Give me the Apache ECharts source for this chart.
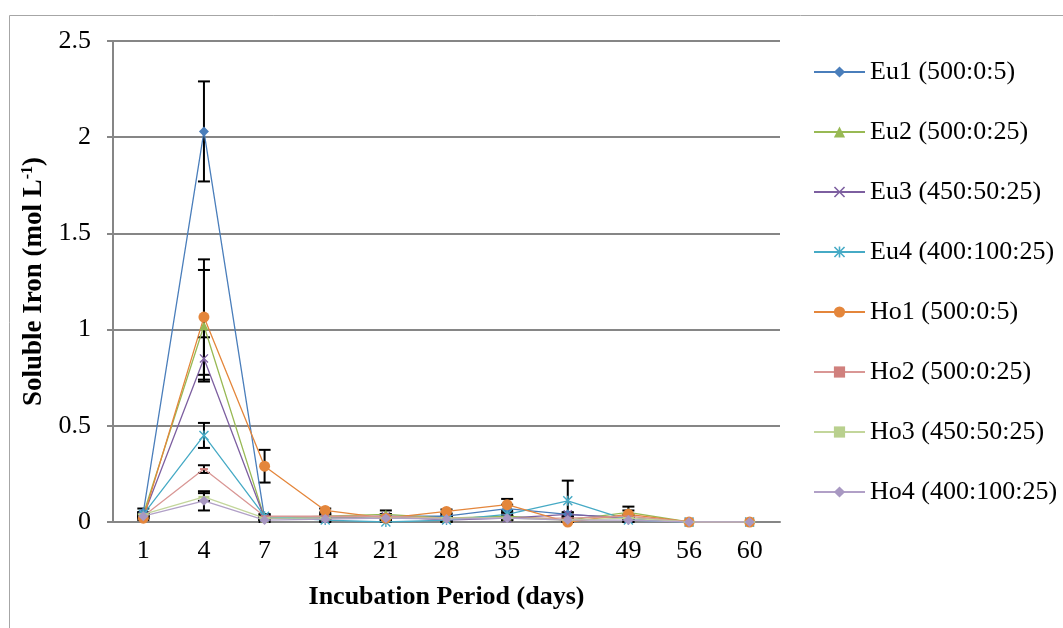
<!DOCTYPE html>
<html>
<head>
<meta charset="UTF-8">
<title>Soluble Iron</title>
<script type="text/javascript" src="https://cdn.jsdelivr.net/npm/echarts@6/dist/echarts.min.js"></script>
<style type="text/css">
body {
	margin: 0;
	background-color: #FFFFFF
}
</style>
</head>
<body>
	<div id="main" style="width: 1063px; height: 628px"></div>
</body>
<script type="text/javascript">
	// days of incubation
	var days = ['1', '4', '7', '14', '21', '28', '35', '42', '49', '56', '60'];
	var yTicks = [0, 0.5, 1, 1.5, 2, 2.5];

	var names = ['Eu1 (500:0:5)', 'Eu2 (500:0:25)', 'Eu3 (450:50:25)', 'Eu4 (400:100:25)',
		'Ho1 (500:0:5)', 'Ho2 (500:0:25)', 'Ho3 (450:50:25)', 'Ho4 (400:100:25)'];

	// mean values
	var eu1 = [0.05, 2.03, 0.02, 0.02, 0.03, 0.03, 0.07, 0.04, 0.02, 0, 0];
	var eu2 = [0.04, 1.02, 0.02, 0.03, 0.04, 0.02, 0.03, 0.01, 0.05, 0, 0];
	var eu3 = [0.03, 0.85, 0.02, 0.02, 0.03, 0.01, 0.02, 0.04, 0.02, 0, 0];
	var eu4 = [0.04, 0.45, 0.03, 0.01, 0.00, 0.01, 0.04, 0.11, 0.01, 0, 0];
	var ho1 = [0.02, 1.065, 0.29, 0.06, 0.02, 0.055, 0.09, 0.00, 0.04, 0, 0];
	var ho2 = [0.03, 0.275, 0.03, 0.03, 0.03, 0.02, 0.02, 0.02, 0.03, 0, 0];
	var ho3 = [0.04, 0.13, 0.02, 0.02, 0.02, 0.02, 0.02, 0.01, 0.02, 0, 0];
	var ho4 = [0.03, 0.11, 0.01, 0.015, 0.02, 0.015, 0.02, 0.01, 0.01, 0, 0];

	// error bars (+/-)
	var errEu1 = [0.02, 0.26, 0.01, 0.01, 0.01, 0.01, 0.02, 0.01, 0.01, 0, 0];
	var errEu2 = [0.01, 0.29, 0.01, 0.01, 0.02, 0.01, 0.01, 0.01, 0.03, 0, 0];
	var errEu3 = [0.01, 0.11, 0.01, 0.01, 0.01, 0.01, 0.01, 0.01, 0.01, 0, 0];
	var errEu4 = [0.01, 0.065, 0.01, 0.01, 0.01, 0.01, 0.01, 0.105, 0.01, 0, 0];
	var errHo1 = [0.01, 0.30, 0.085, 0.01, 0.01, 0.01, 0.03, 0.01, 0.02, 0, 0];
	var errHo2 = [0.01, 0.02, 0.01, 0.01, 0.01, 0.01, 0.01, 0.01, 0.01, 0, 0];
	var errHo3 = [0.01, 0.02, 0.01, 0.01, 0.01, 0.01, 0.01, 0.01, 0.01, 0, 0];
	var errHo4 = [0.01, 0.05, 0.01, 0.01, 0.01, 0.01, 0.01, 0.01, 0.01, 0, 0];

	var values = [eu1, eu2, eu3, eu4, ho1, ho2, ho3, ho4];
	var errors = [errEu1, errEu2, errEu3, errEu4, errHo1, errHo2, errHo3, errHo4];

	var colors = ['#4A7EBB', '#98B954', '#7D5FA0', '#46AAC5', '#E4863B', '#D99795', '#C3D69B', '#B1A0C7'];
	var markColors = ['#4A7EBB', '#98B954', '#7D5FA0', '#46AAC5', '#E4863B', '#D0807D', '#B9D08E', '#A898C2'];
	var xPath = 'path://M0,1 L1,0 L5,4 L9,0 L10,1 L6,5 L10,9 L9,10 L5,6 L1,10 L0,9 L4,5 Z';
	var starPath = 'path://M0,1 L1,0 L5,4 L9,0 L10,1 L6,5 L10,9 L9,10 L5,6 L1,10 L0,9 L4,5 Z M4.3,0 L5.7,0 L5.7,10 L4.3,10 Z';
	var smallRect = 'path://M0,0 L8,0 L8,4 L0,4 Z';
	var wideRect = 'path://M0,0 L11,0 L11,5 L0,5 Z';
	var symbols = ['diamond', 'triangle', xPath, starPath, 'circle', smallRect, wideRect, 'diamond'];
	var sizes = [10, 9, 9, 10, 11, [8, 4], [11, 5], 10];

	var font = '"Liberation Serif", "Times New Roman", serif';

	initChart();

	function initChart() {
		var myChart = echarts.init(document.getElementById('main'));
		var series = [];
		var errData = [];
		for (var s = 0; s < values.length; s++) {
			series.push({
				name : names[s],
				type : 'line',
				data : values[s],
				symbol : symbols[s],
				symbolSize : sizes[s],
				symbolKeepAspect : true,
				showAllSymbol : true,
				z : 3,
				lineStyle : {
					color : colors[s],
					width : 1.3
				},
				itemStyle : {
					color : markColors[s]
				}
			});
			for (var i = 0; i < days.length; i++) {
				if (errors[s][i] > 0) {
					errData.push([i, Math.max(0, values[s][i] - errors[s][i]), values[s][i] + errors[s][i]]);
				}
			}
		}
		series.push({
			name : 'err',
			type : 'custom',
			z : 2,
			silent : true,
			renderItem : function(params, api) {
				var top = api.coord([api.value(0), api.value(2)]);
				var bot = api.coord([api.value(0), api.value(1)]);
				var w = 6;
				var st = {
					stroke : '#000',
					lineWidth : 2
				};
				return {
					type : 'group',
					children : [ {
						type : 'line',
						shape : {x1 : top[0], y1 : top[1], x2 : bot[0], y2 : bot[1]},
						style : st
					}, {
						type : 'line',
						shape : {x1 : top[0] - w, y1 : top[1], x2 : top[0] + w, y2 : top[1]},
						style : st
					}, {
						type : 'line',
						shape : {x1 : bot[0] - w, y1 : bot[1], x2 : bot[0] + w, y2 : bot[1]},
						style : st
					} ]
				};
			},
			data : errData
		});

		var option = {
			animation : false,
			textStyle : {
				fontFamily : font
			},
			graphic : [ {
				type : 'rect',
				shape : {x : 9.5, y : 15.5, width : 1100, height : 700},
				style : {fill : null, stroke : '#A6A6A6', lineWidth : 1},
				silent : true
			} ],
			grid : {
				left : 113,
				right : 283,
				top : 41,
				bottom : 106
			},
			legend : {
				orient : 'vertical',
				left : 813,
				top : 57,
				padding : 0,
				itemWidth : 51,
				itemHeight : 14,
				itemGap : 30,
				data : names,
				textStyle : {
					fontFamily : font,
					fontSize : 26,
					lineHeight : 30,
					color : '#000'
				}
			},
			xAxis : {
				type : 'category',
				data : days,
				name : 'Incubation Period (days)',
				nameLocation : 'middle',
				nameGap : 62,
				nameTextStyle : {
					fontFamily : font,
					fontSize : 26,
					fontWeight : 'bold',
					color : '#000'
				},
				axisLine : {
					lineStyle : {color : '#868686', width : 2}
				},
				axisTick : {
					length : 7,
					lineStyle : {color : '#868686', width : 2}
				},
				axisLabel : {
					margin : 16,
					fontFamily : font,
					fontSize : 26,
					color : '#000'
				}
			},
			yAxis : {
				type : 'value',
				min : yTicks[0],
				max : yTicks[yTicks.length - 1],
				interval : 0.5,
				name : 'Soluble Iron (mol L{sup|-1})',
				nameLocation : 'middle',
				nameGap : 61,
				nameTextStyle : {
					fontFamily : font,
					fontSize : 27,
					fontWeight : 'bold',
					color : '#000',
					rich : {
						sup : {
							fontFamily : font,
							fontSize : 16,
							fontWeight : 'bold',
							verticalAlign : 'top',
							padding : [0, 0, 12, 0],
							color : '#000'
						}
					}
				},
				axisLine : {
					show : true,
					lineStyle : {color : '#868686', width : 2}
				},
				axisTick : {
					show : true,
					length : 6,
					lineStyle : {color : '#868686', width : 2}
				},
				splitLine : {
					lineStyle : {color : '#868686', width : 2}
				},
				axisLabel : {
					margin : 22,
					fontFamily : font,
					fontSize : 26,
					color : '#000'
				}
			},
			series : series
		};
		myChart.setOption(option);
	}
</script>
</html>
